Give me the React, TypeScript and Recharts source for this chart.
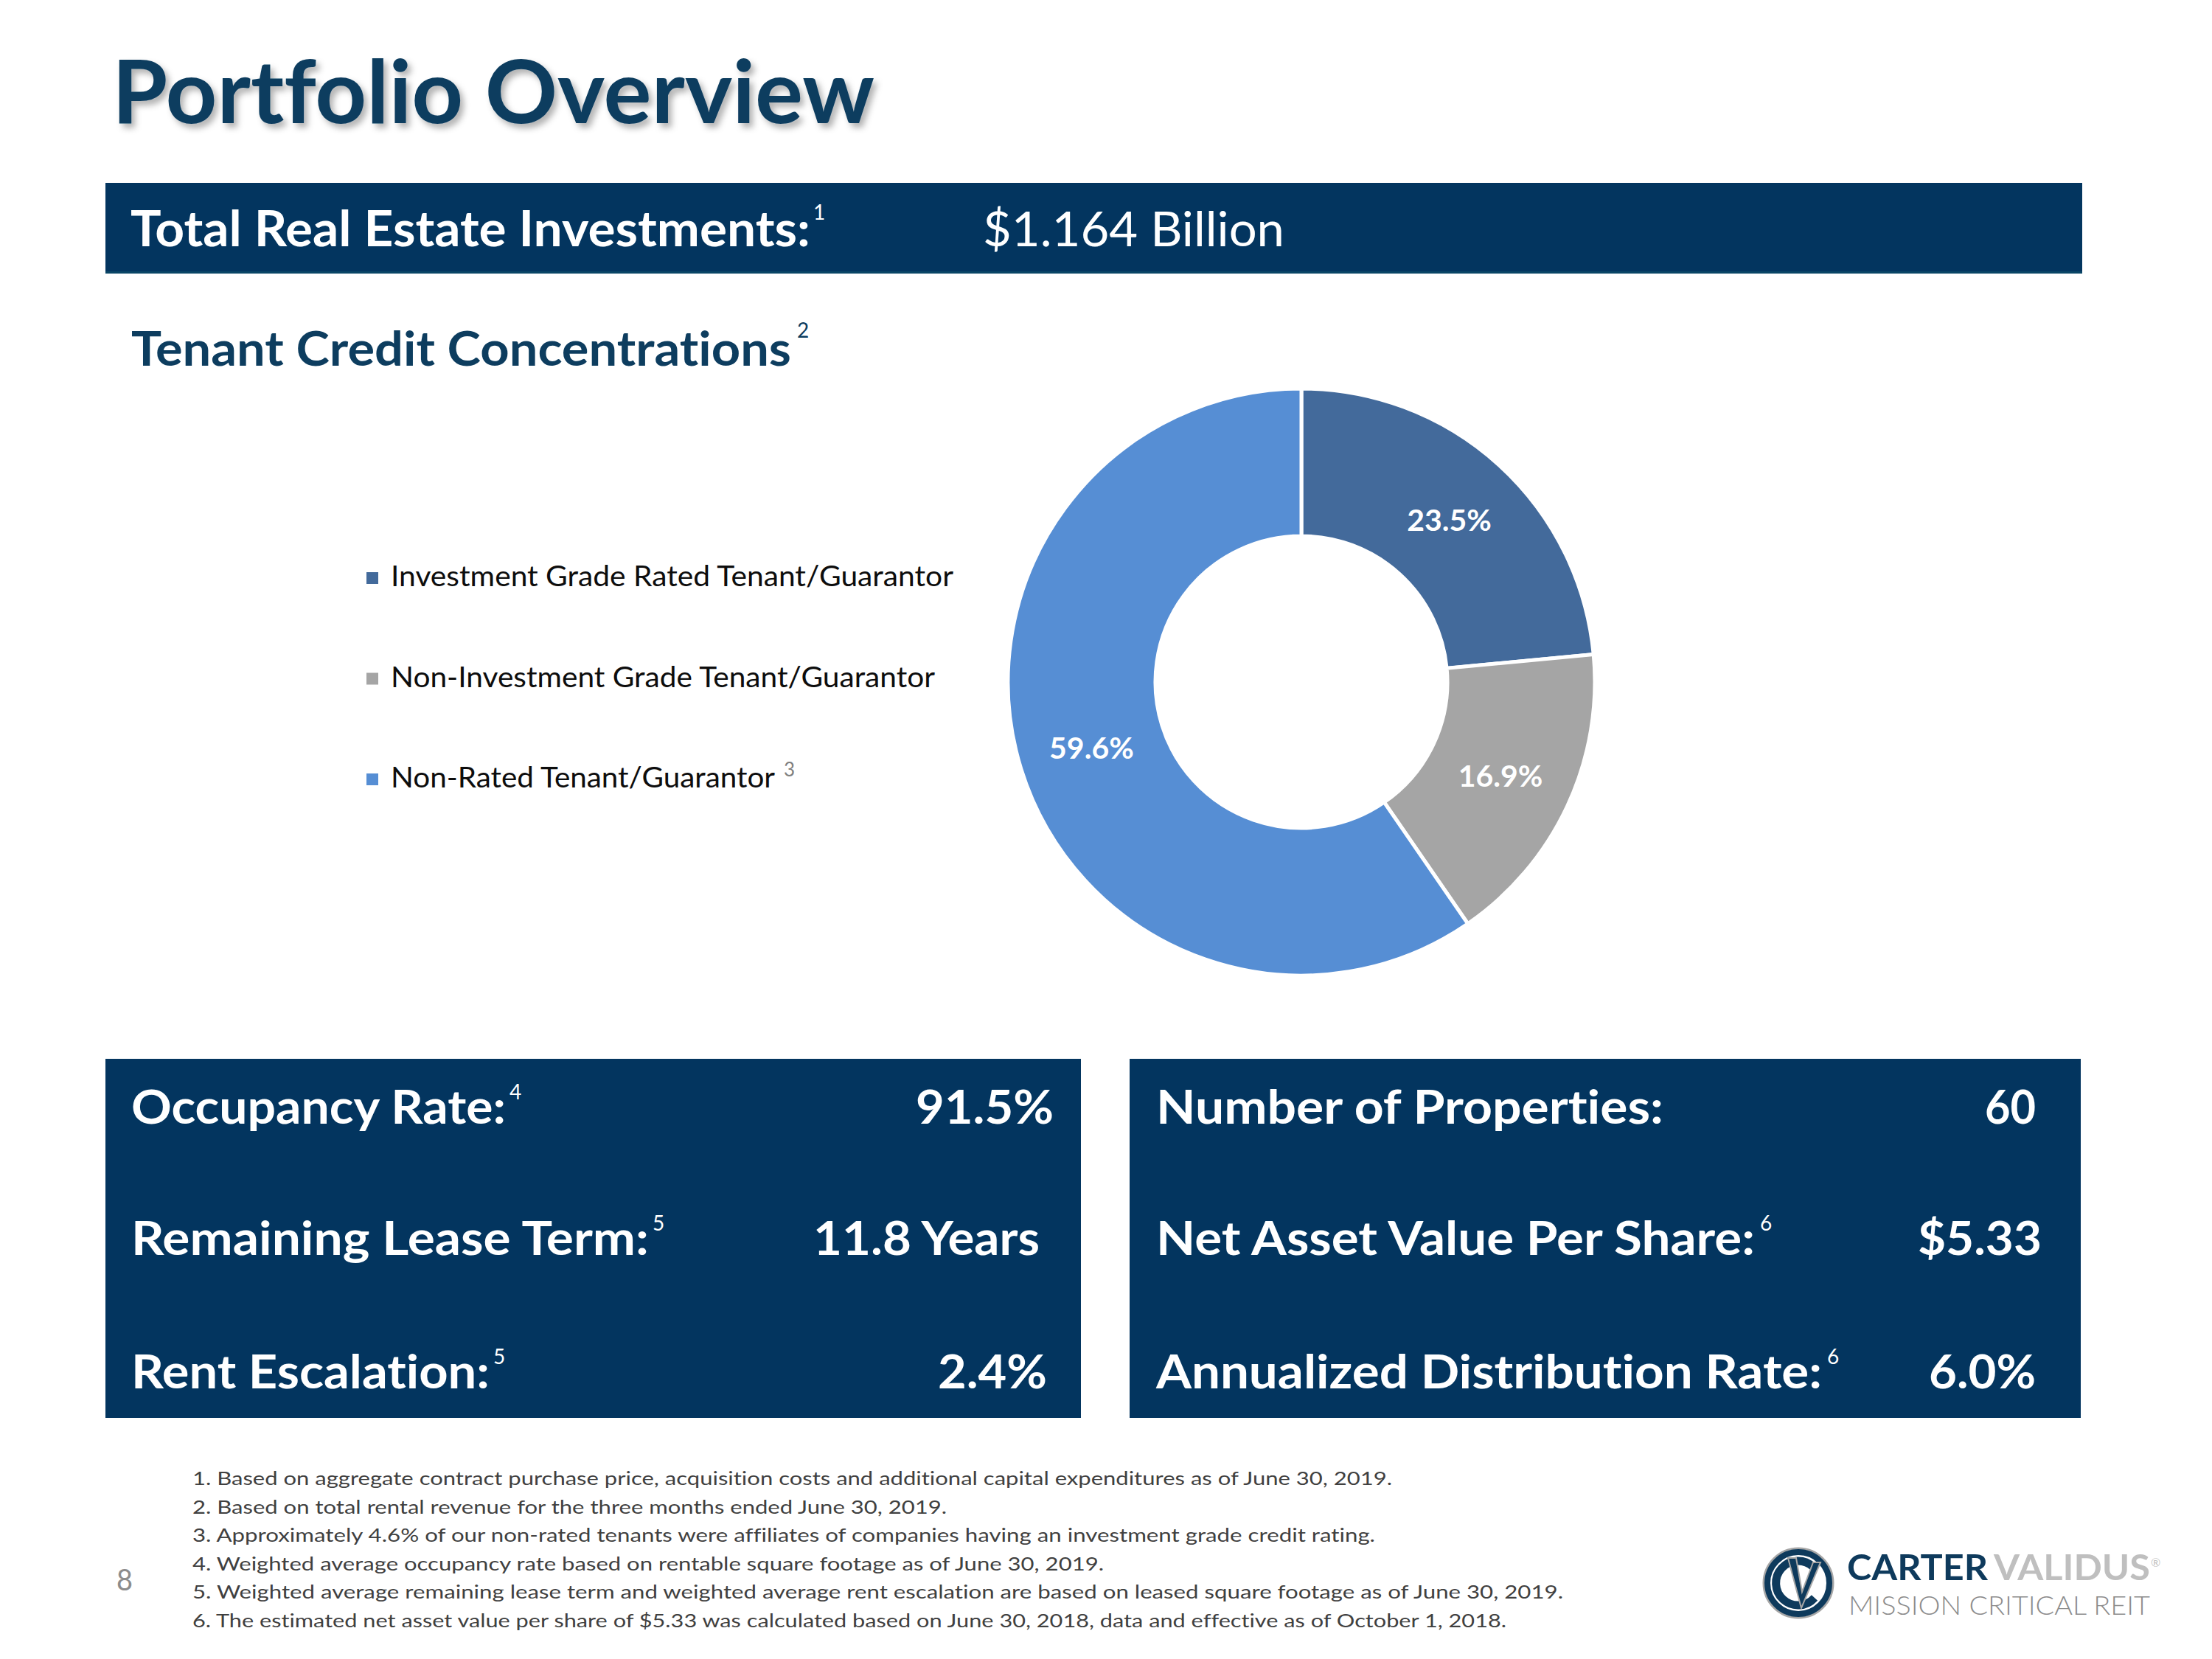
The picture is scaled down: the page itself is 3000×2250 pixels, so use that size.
import React from "react";
import { PieChart, Pie, Cell, Legend } from "recharts";

// Tenant credit concentration (share of rental revenue, %)
const categories = [
  "Investment Grade Rated Tenant/Guarantor",
  "Non-Investment Grade Tenant/Guarantor",
  "Non-Rated Tenant/Guarantor",
];
const shares = [23.5, 16.9, 59.6];
const legendNotes = ["", "", "3"];
const sliceColors = ["#436A9B", "#A5A5A5", "#568ED4"];

// Key stats
const leftLabels = ["Occupancy Rate:", "Remaining Lease Term:", "Rent Escalation:"];
const leftNotes = ["4", "5", "5"];
const leftValues = ["91.5%", "11.8 Years", "2.4%"];
const rightLabels = ["Number of Properties:", "Net Asset Value Per Share:", "Annualized Distribution Rate:"];
const rightNotes = ["", "6", "6"];
const rightValues = ["60", "$5.33", "6.0%"];

const footnotes = [
  "1. Based on aggregate contract purchase price, acquisition costs and additional capital expenditures as of June 30, 2019.",
  "2. Based on total rental revenue for the three months ended June 30, 2019.",
  "3. Approximately 4.6% of our non-rated tenants were affiliates of companies having an investment grade credit rating.",
  "4. Weighted average occupancy rate based on rentable square footage as of June 30, 2019.",
  "5. Weighted average remaining lease term and weighted average rent escalation are based on leased square footage as of June 30, 2019.",
  "6. The estimated net asset value per share of $5.33 was calculated based on June 30, 2018, data and effective as of October 1, 2018.",
];

const pieData = categories.map((name, i) => ({ name, value: shares[i], fill: sliceColors[i] }));

// layout (measured off the slide)
const FONT = "Lato, 'Open Sans', sans-serif";
const NAVY = "#03355F";
const INK = "#0D3D5F";
const ROW_Y = [1524, 1702, 1883];
const leftLabelW = [508, 702, 486];
const leftValueBox = [[1242, 187], [1103, 307], [1272, 148]];
const rightLabelW = [688, 812, 903];
const rightValueBox = [[2692, 69], [2601, 168], [2616, 145]];
const footW = [1627, 1023, 1604, 1236, 1859, 1782];
const legendTextW = [763, 738, 521];
const CHART_X = 440;
const CHART_Y = 480;

const RADIAN = Math.PI / 180;
const noLig = { fontVariantLigatures: "none" } as React.CSSProperties;

const T = ({ x, y, w, size, weight = 400, fill, children }: any) => (
  <text
    x={x}
    y={y}
    fontSize={size}
    fontWeight={weight}
    fill={fill}
    fontFamily={FONT}
    style={noLig}
    textLength={w}
    lengthAdjust={w ? "spacingAndGlyphs" : undefined}
  >
    {children}
  </text>
);

const renderLabel = (p: any) => {
  const r = (p.innerRadius + p.outerRadius) / 2;
  const x = p.cx + r * Math.cos(-p.midAngle * RADIAN);
  const y = p.cy + r * Math.sin(-p.midAngle * RADIAN);
  return (
    <text x={x} y={y} textAnchor="middle" dominantBaseline="central" fill="#fff" fontSize={41} fontWeight={700} fontFamily={FONT}>
      {`${Number(p.value).toFixed(1)}%`}
    </text>
  );
};

const renderLegend = ({ payload }: any) => (
  <svg width={900} height={340}>
    {(payload || []).map((entry: any, i: number) => {
      const base = 55 + i * 136.5;
      return (
        <g key={entry.value}>
          <rect x={0} y={base - 19} width={16} height={16} fill={entry.color || sliceColors[i]} />
          <T x={33} y={base} w={legendTextW[i]} size={38} fill="#0D0D0D">
            {entry.value}
          </T>
          {legendNotes[i] && (
            <text x={33 + legendTextW[i] + 12} y={base - 15} fontSize={26} fill="#7F7F7F" fontFamily={FONT}>
              {legendNotes[i]}
            </text>
          )}
        </g>
      );
    })}
  </svg>
);

const Emblem = ({ cx, cy }: { cx: number; cy: number }) => (
  <g>
    <circle cx={cx} cy={cy} r={47} fill="#fff" stroke="#A6A6A6" strokeWidth={3} />
    <circle cx={cx} cy={cy} r={42} fill="none" stroke="#0E3A5C" strokeWidth={8} />
    <path
      d={`M ${cx + 20} ${cy - 22} A 30 30 0 1 0 ${cx + 22} ${cy + 20}`}
      fill="none"
      stroke="#0E3A5C"
      strokeWidth={11}
    />
    <path
      d={`M ${cx - 14} ${cy - 34} L ${cx + 4} ${cy + 34} L ${cx + 30} ${cy - 28} L ${cx + 20} ${cy - 28} L ${cx + 5} ${cy + 12} L ${cx - 3} ${cy - 34} Z`}
      fill="#0E3A5C"
      stroke="#A6A6A6"
      strokeWidth={2}
    />
  </g>
);

export default function App() {
  return (
    <div style={{ position: "absolute", left: 0, top: 0, width: 3000, height: 2250, background: "#fff", overflow: "hidden" }}>
      <svg width={3000} height={2250} style={{ position: "absolute", left: 0, top: 0 }}>
        <defs>
          <filter id="titleShadow" x="-5%" y="-20%" width="110%" height="150%">
            <feDropShadow dx="5" dy="6" stdDeviation="4" floodColor="#000" floodOpacity="0.3" />
          </filter>
        </defs>

        <g filter="url(#titleShadow)">
          <T x={152} y={167} w={1034} size={118} weight={700} fill={INK}>
            Portfolio Overview
          </T>
        </g>

        {/* header bar */}
        <rect x={143} y={248} width={2681} height={123} fill={NAVY} />
        <rect x={143} y={368} width={2681} height={3} fill="#0A4666" />
        <T x={177} y={334} w={922} size={66} weight={700} fill="#fff">
          Total Real Estate Investments:
        </T>
        <text x={1103} y={298} fontSize={28} fill="#fff" fontFamily={FONT}>1</text>
        <T x={1333} y={334} w={409} size={66} fill="#fff">
          $1.164 Billion
        </T>

        <T x={178} y={496} w={895} size={65} weight={700} fill={INK}>
          Tenant Credit Concentrations
        </T>
        <text x={1081} y={458} fontSize={28} fill={INK} fontFamily={FONT}>2</text>

        {/* stat boxes */}
        <rect x={143} y={1436} width={1323} height={487} fill={NAVY} />
        <rect x={1532} y={1436} width={1290} height={487} fill={NAVY} />
        {leftLabels.map((label, i) => (
          <g key={label}>
            <T x={178} y={ROW_Y[i]} w={leftLabelW[i]} size={64} weight={700} fill="#fff">
              {label}
            </T>
            <text x={178 + leftLabelW[i] + 5} y={ROW_Y[i] - 33} fontSize={28} fill="#fff" fontFamily={FONT}>
              {leftNotes[i]}
            </text>
            <T x={leftValueBox[i][0]} y={ROW_Y[i]} w={leftValueBox[i][1]} size={64} weight={700} fill="#fff">
              {leftValues[i]}
            </T>
          </g>
        ))}
        {rightLabels.map((label, i) => (
          <g key={label}>
            <T x={1568} y={ROW_Y[i]} w={rightLabelW[i]} size={64} weight={700} fill="#fff">
              {label}
            </T>
            {rightNotes[i] && (
              <text x={1568 + rightLabelW[i] + 7} y={ROW_Y[i] - 33} fontSize={28} fill="#fff" fontFamily={FONT}>
                {rightNotes[i]}
              </text>
            )}
            <T x={rightValueBox[i][0]} y={ROW_Y[i]} w={rightValueBox[i][1]} size={64} weight={700} fill="#fff">
              {rightValues[i]}
            </T>
          </g>
        ))}

        {/* footnotes */}
        {footnotes.map((line, i) => (
          <T key={i} x={261} y={2014 + i * 38.6} w={footW[i]} size={25} fill="#404040">
            {line}
          </T>
        ))}
        <T x={158} y={2157} w={22} size={40} fill="#8C8C8C">
          8
        </T>

        {/* logo */}
        <Emblem cx={2439} cy={2147} />
        <T x={2505} y={2143} w={191} size={47} weight={700} fill="#0E3A5C">
          CARTER
        </T>
        <T x={2704} y={2143} w={212} size={47} weight={700} fill="#BFBFBF">
          VALIDUS
        </T>
        <text x={2917} y={2125} fontSize={16} fill="#BFBFBF" fontFamily={FONT}>®</text>
        <T x={2507} y={2190} w={409} size={36} weight={300} fill="#8C8C8C">
          MISSION CRITICAL REIT
        </T>
      </svg>

      <div style={{ position: "absolute", left: CHART_X, top: CHART_Y }}>
        <PieChart width={1800} height={900} margin={{ top: 0, right: 0, bottom: 0, left: 0 }}>
          <Pie
            data={pieData}
            dataKey="value"
            nameKey="name"
            cx={1765 - CHART_X}
            cy={925 - CHART_Y}
            innerRadius={198}
            outerRadius={398}
            startAngle={90}
            endAngle={-270}
            stroke="#fff"
            strokeWidth={5}
            label={renderLabel}
            labelLine={false}
            isAnimationActive={false}
          >
            {pieData.map((d) => (
              <Cell key={d.name} fill={d.fill} />
            ))}
          </Pie>
          <Legend
            layout="horizontal"
            verticalAlign="bottom"
            align="left"
            content={renderLegend}
            wrapperStyle={{ left: 497 - CHART_X, top: 740 - CHART_Y, bottom: "auto", width: 900, height: 340 }}
          />
        </PieChart>
      </div>
    </div>
  );
}
